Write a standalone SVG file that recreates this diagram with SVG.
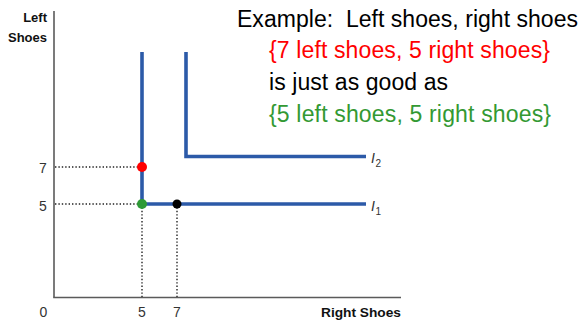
<svg xmlns="http://www.w3.org/2000/svg" width="584" height="323" viewBox="0 0 584 323">
<style>
.axis{stroke:#5a5a5a;stroke-width:1.6;fill:none}
.curve{stroke:#2c5aa8;stroke-width:3.6;fill:none;stroke-linecap:butt;stroke-linejoin:miter}
.dot{stroke:#222;stroke-width:1.4;stroke-dasharray:1.4 2;fill:none}
.num{font-family:"Liberation Sans",Arial,sans-serif;font-size:14px;fill:#333;text-anchor:middle}
.lbl{font-family:"Liberation Sans",Arial,sans-serif;font-size:13px;font-weight:bold;fill:#111}
.big{font-family:"Liberation Sans",Arial,sans-serif;font-size:23px}
.ind{font-family:"Liberation Sans",Arial,sans-serif;font-style:italic;font-size:14px;fill:#333}
.sub{font-family:"Liberation Sans",Arial,sans-serif;font-size:10px;fill:#333}
</style>
<rect width="584" height="323" fill="#fff"/>
<g id="axes">
<line class="axis" x1="54" y1="11" x2="54" y2="297.5"/>
<line class="axis" x1="53.2" y1="297.5" x2="401" y2="297.5"/>
<text class="lbl" x="47" y="21.5" text-anchor="end">Left</text>
<text class="lbl" x="47" y="41.5" text-anchor="end">Shoes</text>
<text class="lbl" x="401" y="316.5" text-anchor="end" font-size="13.5" textLength="80" lengthAdjust="spacingAndGlyphs">Right Shoes</text>
<text class="num" x="43" y="173">7</text>
<text class="num" x="43" y="210.5">5</text>
<text class="num" x="43.5" y="316.7">0</text>
<text class="num" x="142" y="316.7">5</text>
<text class="num" x="177" y="316.7">7</text>
</g>
<g id="connectors">
<line class="dot" x1="55" y1="167" x2="142" y2="167"/>
<line class="dot" x1="55" y1="204" x2="142" y2="204"/>
<line class="dot" x1="142" y1="204" x2="142" y2="297"/>
<line class="dot" x1="177" y1="204" x2="177" y2="297"/>
</g>
<g id="I1">
<polyline class="curve" points="142,52 142,204 366,204"/>
<text class="ind" x="371" y="211">I</text>
<text class="sub" x="375.5" y="215">1</text>
</g>
<g id="I2">
<polyline class="curve" points="186,52 186,156.5 366,156.5"/>
<text class="ind" x="371" y="163">I</text>
<text class="sub" x="375.5" y="167">2</text>
</g>
<g id="points">
<circle cx="142" cy="167" r="5" fill="#ff0000"/>
<circle cx="142" cy="204" r="5" fill="#2e9a36"/>
<circle cx="177" cy="204" r="4.5" fill="#000"/>
</g>
<g id="text">
<text class="big" x="237" y="26.7" fill="#000" textLength="341" lengthAdjust="spacing" xml:space="preserve">Example:  Left shoes, right shoes</text>
<text class="big" x="269" y="58.3" fill="#ff0000" textLength="281" lengthAdjust="spacing">{7 left shoes, 5 right shoes}</text>
<text class="big" x="269" y="90" fill="#000" textLength="179" lengthAdjust="spacing">is just as good as</text>
<text class="big" x="269" y="121.7" fill="#339933" textLength="282" lengthAdjust="spacing">{5 left shoes, 5 right shoes}</text>
</g>
</svg>
